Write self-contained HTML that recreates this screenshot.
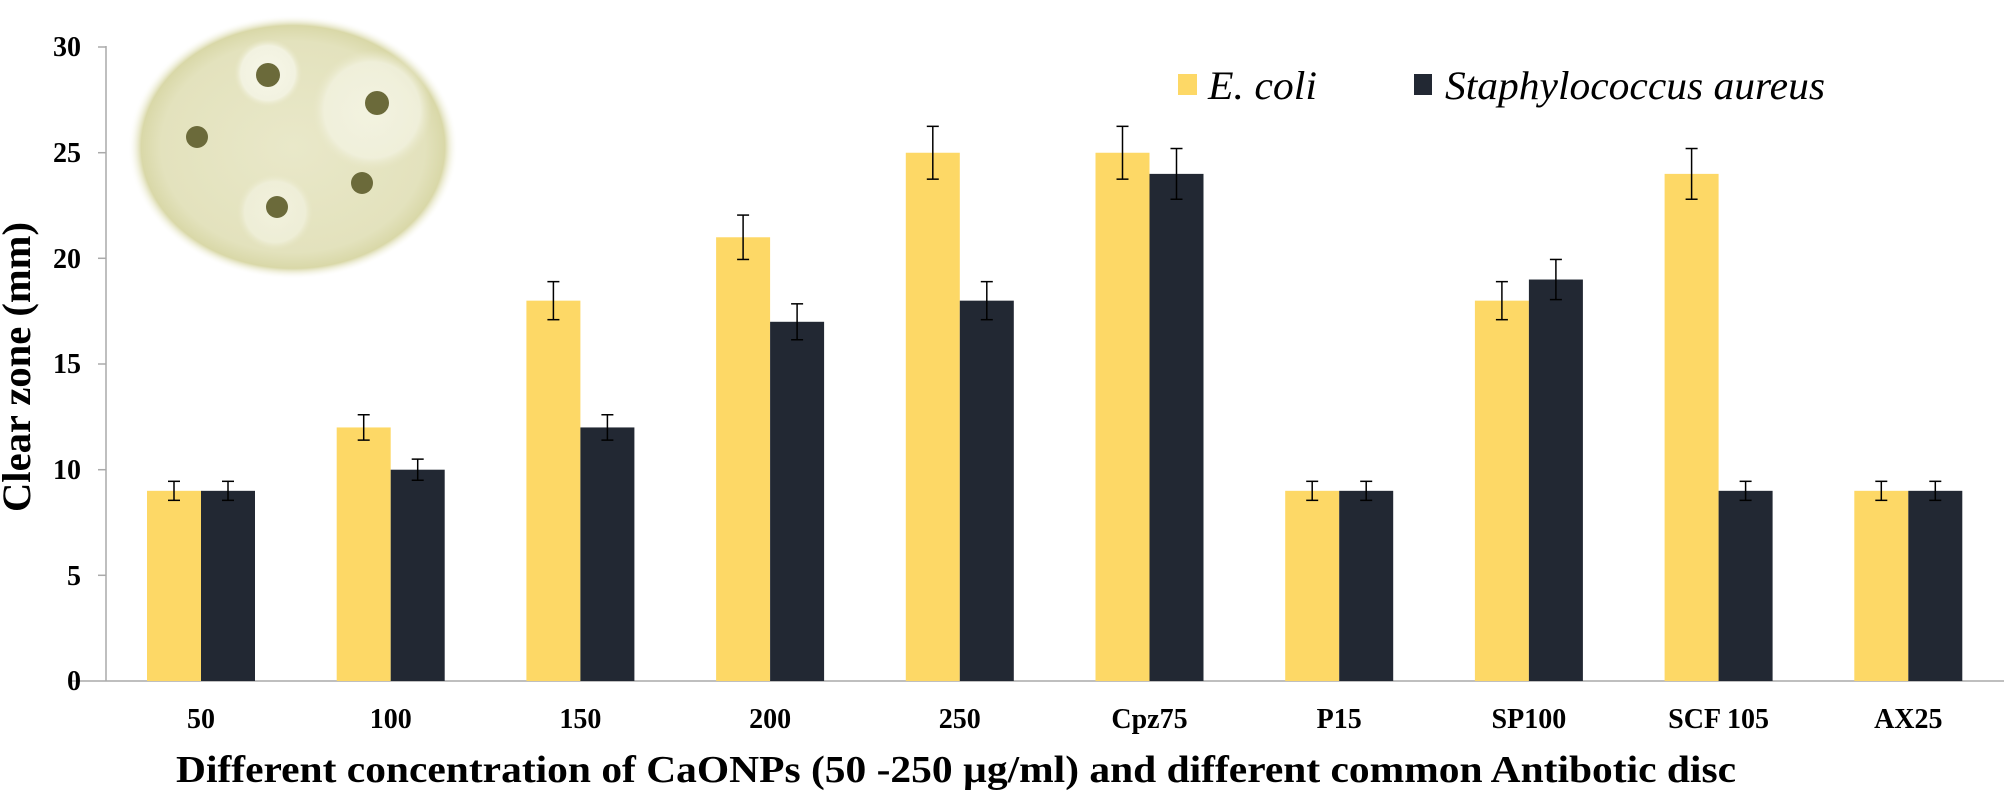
<!DOCTYPE html>
<html><head><meta charset="utf-8"><style>
html,body{margin:0;padding:0;background:#fff;}
svg{display:block;}
text{font-family:"Liberation Serif",serif;}
.it{font-family:"Liberation Serif","DejaVu Serif",serif;font-style:italic;}
</style></head><body>
<svg width="2006" height="792" viewBox="0 0 2006 792" xmlns="http://www.w3.org/2000/svg">
<defs>
<radialGradient id="dish" cx="50%" cy="50%" r="50%">
<stop offset="0%" stop-color="#e9e8c9"/>
<stop offset="80%" stop-color="#e3e2bd"/>
<stop offset="92%" stop-color="#d9d8a8"/>
<stop offset="100%" stop-color="#ffffff" stop-opacity="0"/>
</radialGradient>
<radialGradient id="halo" cx="50%" cy="50%" r="50%">
<stop offset="0%" stop-color="#f6f6e8"/>
<stop offset="80%" stop-color="#f2f2e0"/>
<stop offset="100%" stop-color="#e9e8c9" stop-opacity="0"/>
</radialGradient>
</defs>
<ellipse cx="293" cy="147" rx="165" ry="132" fill="url(#dish)"/>
<circle cx="268" cy="73" r="34" fill="url(#halo)"/>
<circle cx="372" cy="110" r="60" fill="url(#halo)" opacity="0.8"/>
<circle cx="275" cy="212" r="38" fill="url(#halo)" opacity="0.7"/>
<g fill="#6b6a3a">
<circle cx="268" cy="75" r="12"/>
<circle cx="377" cy="103" r="12"/>
<circle cx="197" cy="137" r="11"/>
<circle cx="362" cy="183" r="11"/>
<circle cx="277" cy="207" r="11"/>
</g>
<g stroke="#aaaaaa" stroke-width="1.5">
<line x1="106" y1="46" x2="106" y2="681"/>
<line x1="72" y1="681" x2="2004" y2="681"/>
<line x1="98" y1="47" x2="106" y2="47"/>
<line x1="98" y1="152.7" x2="106" y2="152.7"/>
<line x1="98" y1="258.3" x2="106" y2="258.3"/>
<line x1="98" y1="364" x2="106" y2="364"/>
<line x1="98" y1="469.7" x2="106" y2="469.7"/>
<line x1="98" y1="575.3" x2="106" y2="575.3"/>
</g>
<g font-size="28" font-weight="bold" text-anchor="end" fill="#000">
<text x="81" y="56">30</text>
<text x="81" y="162">25</text>
<text x="81" y="268">20</text>
<text x="81" y="373">15</text>
<text x="81" y="479">10</text>
<text x="81" y="585">5</text>
<text x="81" y="690">0</text>
</g>
<g id="bars"></g>
<g font-size="28" font-weight="bold" text-anchor="middle" fill="#000" id="xl"></g>
<text x="956" y="782" font-size="38" font-weight="bold" text-anchor="middle" textLength="1560" lengthAdjust="spacingAndGlyphs">Different concentration of CaONPs (50 -250 µg/ml) and different common Antibotic disc</text>
<text transform="translate(30,367) rotate(-90)" font-size="40" font-weight="bold" text-anchor="middle" textLength="290" lengthAdjust="spacingAndGlyphs">Clear zone (mm)</text>
<rect x="1178" y="74" width="19" height="21" fill="#fdd866"/>
<text class="it" x="1208" y="99" font-size="40" textLength="109" lengthAdjust="spacingAndGlyphs">E. coli</text>
<rect x="1414" y="74" width="18" height="21" fill="#222833"/>
<text class="it" x="1445" y="99" font-size="40" textLength="380" lengthAdjust="spacingAndGlyphs">Staphylococcus aureus</text>
<script>
(function(){
var ns="http://www.w3.org/2000/svg";
var cats=["50","100","150","200","250","Cpz75","P15","SP100","SCF 105","AX25"];
var ec=[9,12,18,21,25,25,9,18,24,9];
var sa=[9,10,12,17,18,24,9,19,9,9];
var y0=681,u=21.13,w=54;
var g=document.getElementById("bars"),xl=document.getElementById("xl");
function el(t,a,p){var e=document.createElementNS(ns,t);for(var k in a)e.setAttribute(k,a[k]);p.appendChild(e);return e;}
function bar(x,v,c){
 var top=y0-v*u;
 el("rect",{x:x,y:top,width:w,height:v*u,fill:c},g);
 var cx=x+w/2,e=v*0.05*u;
 el("line",{x1:cx,y1:top-e,x2:cx,y2:top+e,stroke:"#000","stroke-width":1.5},g);
 el("line",{x1:cx-6,y1:top-e,x2:cx+6,y2:top-e,stroke:"#000","stroke-width":1.5},g);
 el("line",{x1:cx-6,y1:top+e,x2:cx+6,y2:top+e,stroke:"#000","stroke-width":1.5},g);
}
for(var i=0;i<10;i++){
 var c=201+i*189.7;
 bar(c-w,ec[i],"#fdd866");
 bar(c,sa[i],"#222833");
 var t=el("text",{x:c,y:728},xl);t.textContent=cats[i];
}
})();
</script>
</svg>
</body></html>
